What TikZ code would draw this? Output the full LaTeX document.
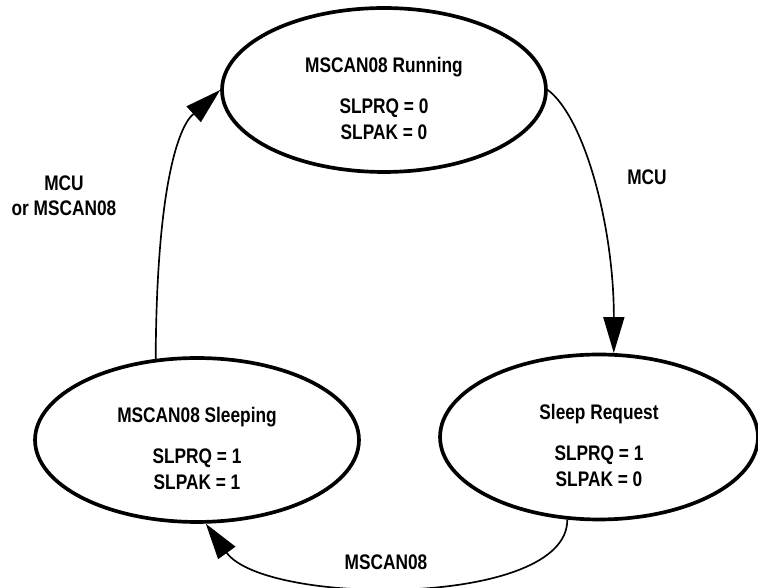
\documentclass[tikz,border=0pt]{standalone}
\usepackage{fontspec}
\setmainfont{Liberation Sans}[FakeStretch=0.82]
\usepackage{tikz}
\usetikzlibrary{arrows.meta, positioning, calc, shapes.geometric}

\begin{document}
\begin{tikzpicture}[x=0.02cm, y=0.02cm, >={Triangle[length=0.72cm, width=0.42cm]},
    state/.style={draw, ellipse, line width=2.1pt, minimum width=6.48cm, minimum height=3.28cm, inner sep=0pt},
    statetext/.style={align=center, inner sep=0pt, font=\fontsize{12}{14.8}\selectfont\bfseries},
    edgelabel/.style={align=center, inner sep=0pt, font=\fontsize{12}{14.2}\selectfont\bfseries},
    trans/.style={->, line width=0.95pt}]
    \useasboundingbox (0,0) rectangle (758,588);
    % states
    \node[state] (running) at (384,498) {};
    \node[state] (sleeping) at (197,148) {};
    \node[state, minimum width=6.36cm, minimum height=3.3cm] (request) at (599,151) {};
    \node[statetext] (runningtext) at ($(running)+(0,-8.5)$) {MSCAN08 Running\\[8.5pt]SLPRQ = 0\\SLPAK = 0};
    \node[statetext] (sleepingtext) at ($(sleeping)+(0,-8.5)$) {MSCAN08 Sleeping\\[8.5pt]SLPRQ = 1\\SLPAK = 1};
    \node[statetext] (requesttext) at ($(request)+(0,-8.5)$) {Sleep Request\\[8.5pt]SLPRQ = 1\\SLPAK = 0};
    % transitions
    \draw[trans] (running.east) .. controls (585,470) and (614,360) .. (request.80);
    \draw[trans] (request.249) .. controls (568,-20) and (265,-18) .. (sleeping.276);
    \draw[trans] (sleeping.117) .. controls (157,460) and (195,475) .. (running.west);
    \node[edgelabel] (mcu) at (647,411) {MCU};
    \node[edgelabel] (mcuormscan) at (64,392.5) {MCU\\or MSCAN08};
    \node[edgelabel] (mscan) at (386,26) {MSCAN08};
\end{tikzpicture}
\end{document}
